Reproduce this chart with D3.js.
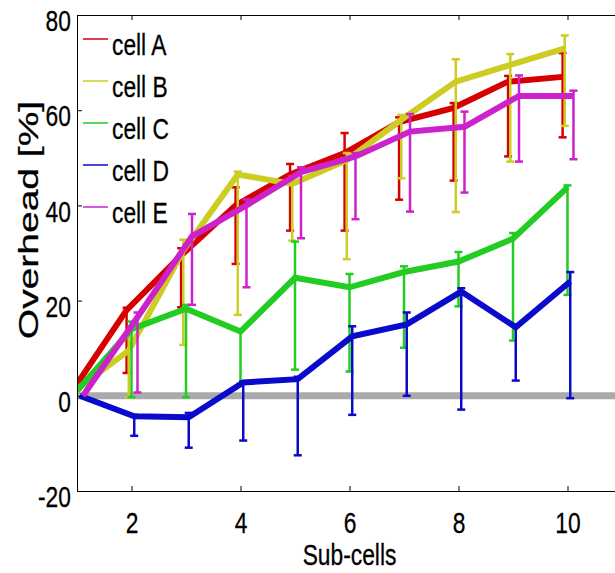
<!DOCTYPE html>
<html>
<head>
<meta charset="utf-8">
<script src="https://cdn.jsdelivr.net/npm/d3@7"></script>
<style>
  body { margin: 0; background: #fff; }
  text { font-family: "Liberation Sans", Arial, Helvetica, sans-serif; fill: #000; stroke: #000; stroke-width: 0.3px; }
</style>
</head>
<body>
<div id="chart"></div>
<script>
// sub-cell counts on the x axis
var subCells = [1, 2, 3, 4, 5, 6, 7, 8, 9, 10];

var seriesNames = ["cell A", "cell B", "cell C", "cell D", "cell E"];
var seriesColors = ["#d60000", "#cccc22", "#22cc22", "#0a0acc", "#cc22cc"];
// small horizontal shift of each series so the error bars do not overlap
var dodge = [-0.09, -0.05, 0, 0.05, 0.11];

// overhead values [%]
var cellA = [1, 18, 29.5, 40, 46.5, 51, 57.5, 60.5, 66, 67];
var cellB = [1, 9.5, 30.5, 46.5, 44.5, 49.5, 58, 66, 69.5, 73];
var cellC = [1, 14, 18.3, 13.5, 24.8, 22.8, 26, 28.2, 33, 43.8];
var cellD = [0, -4.3, -4.5, 2.8, 3.5, 12.5, 15, 21.9, 14.4, 24];
var cellE = [0, 16.5, 33.5, 40, 47, 50.3, 55.5, 56.5, 63, 63];

// error bar ends
var cellAHigh = [1, 18.5, 31, 43.8, 48.7, 55.2, 58.5, 61.5, 67.2, 72];
var cellALow  = [1, 4.8, 18.6, 27.7, 34.7, 34.7, 41.2, 45.2, 50.3, 54.3];
var cellBHigh = [1, 13, 32.8, 47.1, 46, 51, 59, 70.7, 71.8, 75.7];
var cellBLow  = [1, -0.3, 10.7, 17, 32.6, 28.7, 45.7, 38.6, 49.2, 56.7];
var cellCHigh = [1, 15.6, 19.1, 14, 32.4, 25.6, 27.2, 30.2, 34.2, 44.2];
var cellCLow  = [1, -0.3, -0.3, 2.5, 5.5, 5.1, 10.1, 18.8, 11.6, 21.2];
var cellDHigh = [0, -4, -3.6, 3, 4, 14.6, 17.5, 22.6, 15, 26];
var cellDLow  = [0, -8.4, -10.9, -9.4, -12.5, -4, 0, -2.9, 3.2, -0.5];
var cellEHigh = [0, 17.5, 38.2, 41.3, 48, 51, 59.2, 59.7, 67.3, 64.1];
var cellELow  = [0, 0.7, 19.1, 22.8, 33.1, 37.1, 38.7, 42.7, 49.2, 49.7];

var xTicks = [2, 4, 6, 8, 10];
var yTicks = [-20, 0, 20, 40, 60, 80];

var svgWidth = 615;
var svgHeight = 573;

var margin = { top: 15, right: -7, bottom: 82, left: 77 };
var width = svgWidth - margin.left - margin.right;
var height = svgHeight - margin.top - margin.bottom;

var svg = d3.select("#chart")
  .append("svg")
  .attr("width", svgWidth)
  .attr("height", svgHeight);

var chartGroup = svg.append("g")
  .attr("transform", `translate(${margin.left}, ${margin.top})`);

var xScale = d3.scaleLinear().domain([1, 11]).range([0, width]);
var yScale = d3.scaleLinear().domain([-20, 80]).range([height, 0]);

// the original figure is stretched vertically: narrow, tall text
var textScale = 0.76;
var fontSize = "30px";

chartGroup.append("clipPath")
  .attr("id", "plotClip")
  .append("rect")
  .attr("width", width)
  .attr("height", height);

var plot = chartGroup.append("g").attr("clip-path", "url(#plotClip)");

// grey zero line
plot.append("line")
  .attr("x1", 0)
  .attr("x2", width)
  .attr("y1", yScale(0))
  .attr("y2", yScale(0))
  .attr("stroke", "#aaaaaa")
  .attr("stroke-width", 7);

var values = [cellA, cellB, cellC, cellD, cellE];
var highs = [cellAHigh, cellBHigh, cellCHigh, cellDHigh, cellEHigh];
var lows = [cellALow, cellBLow, cellCLow, cellDLow, cellELow];

var series = seriesNames.map(function(name, i) {
  return {
    name: name,
    color: seriesColors[i],
    points: subCells.map(function(s, j) {
      return { x: s + dodge[i], y: values[i][j], hi: highs[i][j], lo: lows[i][j] };
    })
  };
});

var line = d3.line()
  .x(d => xScale(d.x))
  .y(d => yScale(d.y));

var capHalf = 4;

series.forEach(function(s) {
  var g = plot.append("g");

  var bars = g.selectAll(".bar")
    .data(s.points.filter(d => d.hi !== d.lo))
    .enter()
    .append("g")
    .attr("class", "bar")
    .attr("stroke", s.color)
    .attr("stroke-width", 2.5);

  bars.append("line")
    .attr("x1", d => xScale(d.x))
    .attr("x2", d => xScale(d.x))
    .attr("y1", d => yScale(d.hi))
    .attr("y2", d => yScale(d.lo));

  bars.append("line")
    .attr("x1", d => xScale(d.x) - capHalf)
    .attr("x2", d => xScale(d.x) + capHalf)
    .attr("y1", d => yScale(d.hi))
    .attr("y2", d => yScale(d.hi));

  bars.append("line")
    .attr("x1", d => xScale(d.x) - capHalf)
    .attr("x2", d => xScale(d.x) + capHalf)
    .attr("y1", d => yScale(d.lo))
    .attr("y2", d => yScale(d.lo));

  g.append("path")
    .datum(s.points)
    .attr("d", line)
    .attr("fill", "none")
    .attr("stroke", s.color)
    .attr("stroke-width", 6)
    .attr("stroke-linejoin", "miter");
});

// axes, ticks pointing inward
var bottomAxis = d3.axisBottom(xScale).tickValues(xTicks).tickSize(-5).tickSizeOuter(0).tickPadding(21)
  .tickFormat(d => String(d));
var topAxis = d3.axisTop(xScale).tickValues(xTicks).tickSize(-5).tickSizeOuter(0).tickFormat("");
var leftAxis = d3.axisLeft(yScale).tickValues(yTicks).tickSize(-5).tickSizeOuter(0).tickPadding(8)
  .tickFormat(d => String(d));

chartGroup.append("g")
  .attr("transform", `translate(0, ${height})`)
  .call(bottomAxis);

chartGroup.append("g").call(topAxis);

var yAxisGroup = chartGroup.append("g").call(leftAxis);

chartGroup.selectAll(".domain, .tick line")
  .attr("stroke", "#000")
  .attr("stroke-width", 1);

chartGroup.selectAll(".tick text")
  .attr("fill", "#000")
  .style("font-size", fontSize)
  .attr("transform", `scale(${textScale},1)`);

yAxisGroup.selectAll(".tick text").attr("y", 6);

// legend
var legend = svg.append("g");
seriesNames.forEach(function(name, i) {
  var base = 55 + i * 42;
  legend.append("line")
    .attr("x1", 83)
    .attr("x2", 108)
    .attr("y1", base - 16)
    .attr("y2", base - 16)
    .attr("stroke", seriesColors[i])
    .attr("stroke-opacity", 0.75)
    .attr("stroke-width", 2);
  legend.append("text")
    .attr("transform", `translate(112, ${base}) scale(${textScale},1)`)
    .style("font-size", fontSize)
    .text(name);
});

// axis titles
svg.append("text")
  .attr("transform", `translate(${margin.left + xScale(6)}, 565) scale(${textScale},1)`)
  .attr("text-anchor", "middle")
  .style("font-size", fontSize)
  .text("Sub-cells");

// rotated title: stretched along its length
svg.append("text")
  .attr("transform", "translate(38, 220) rotate(-90) scale(1.3,0.9)")
  .attr("text-anchor", "middle")
  .style("font-size", fontSize)
  .text("Overhead [%]");
</script>
</body>
</html>
